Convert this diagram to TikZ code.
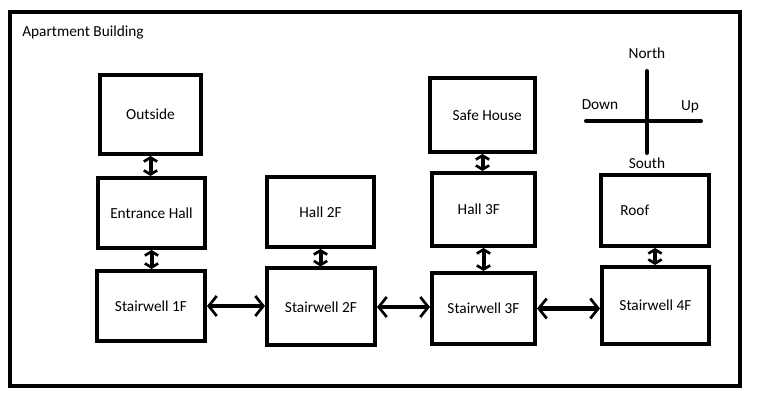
\documentclass[tikz,border=0pt]{standalone}
\usepackage{fontspec}
\setmainfont{Carlito}
\usetikzlibrary{arrows.meta,positioning}
\tikzset{
  room/.style    = {draw, rectangle, line width=3pt, inner sep=0pt,
                    font=\fontsize{11.5}{13}\selectfont},
  boxsize/.style 2 args = {minimum width=#1*0.75pt, minimum height=#2*0.75pt},
  link/.style    = {<->, line width=3.4pt,
                    >={Straight Barb[length=6pt,width=15pt,line width=2pt]}},
  uplink/.style  = {<->, line width=3pt,
                    >={Straight Barb[length=3pt,width=10pt,line width=2pt]}},
  compass/.style = {line width=3pt, line cap=round},
  dirlabel/.style = {font=\fontsize{11.5}{13}\selectfont, inner sep=0pt}
}

\begin{document}
\begin{tikzpicture}[x=0.75pt, y=-0.75pt]

\useasboundingbox (0,0) rectangle (765,420);

% the building outline
\draw[line width=3.4pt] (10,12) rectangle (740,386);
\node[dirlabel, anchor=west] (building) at (22,32) {Apartment Building};

% ground floor column
\node[room, boxsize={101}{79}] (outside) at (150.5,114.5) {Outside};
\node[room, boxsize={107}{70}] (entrance) at (151.5,213) {Entrance Hall};
\node[room, boxsize={108}{70}] (stair1) at (151,306) {Stairwell 1F};

% second floor
\node[room, boxsize={107}{70}] (hall2) at (320.5,212) {Hall 2F};
\node[room, boxsize={108}{77}] (stair2) at (321,307) {Stairwell 2F};

% third floor
\node[room, boxsize={105}{74}] (safe) at (482.5,115) {\hspace*{7pt}Safe House};
\node[room, boxsize={103}{73}] (hall3) at (483.5,209.5) {Hall 3F\hspace*{7pt}};
\node[room, boxsize={103}{71}] (stair3) at (483.5,308.5) {Stairwell 3F};

% top floor
\node[room, boxsize={108}{71}, text width=52pt, align=left] (roof) at (655,210.5) {Roof};
\node[room, boxsize={107}{77}] (stair4) at (655.5,305.5) {Stairwell 4F};

% compass
\coordinate (north end) at (647,71);
\coordinate (south end) at (647,153);
\coordinate (down end) at (586,121);
\coordinate (up end) at (701,121);
\draw[compass] (north end) -- (south end);
\draw[compass] (down end) -- (up end);
\node[dirlabel] (north) at (647,53) {North};
\node[dirlabel] (south) at (647,163) {South};
\node[dirlabel] (down) at (600,105) {Down};
\node[dirlabel] (up) at (690,107) {Up};

% stairs and doors between the rooms
\foreach \a/\b in {outside/entrance, entrance/stair1, hall2/stair2,
                   safe/hall3, hall3/stair3, roof/stair4}
  \draw[uplink] (\a) -- (\a |- \b.north);

\foreach \a/\b in {stair1/stair2, stair2/stair3, stair3/stair4}
  \draw[link] (\a.east) -- (\a.east -| \b.west);

\end{tikzpicture}
\end{document}
